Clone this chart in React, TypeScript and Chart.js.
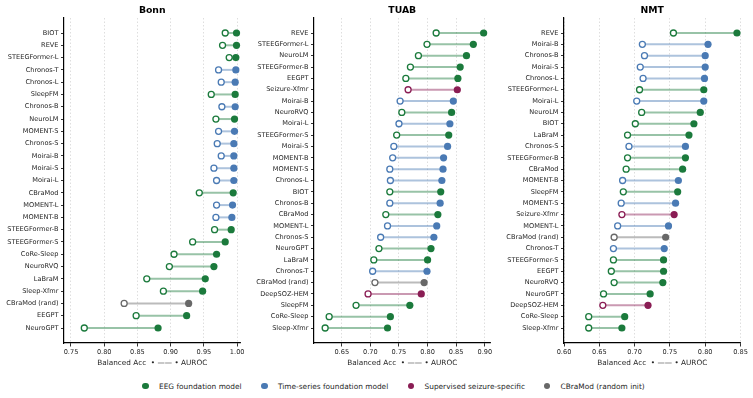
import { useEffect, useRef } from "react";
import { Chart, registerables } from "chart.js";

Chart.register(...registerables);

// ---- Model groups ----
const EEG_FOUNDATION = [
  "BIOT", "REVE", "STEEGFormer-L", "STEEGFormer-B", "STEEGFormer-S", "SleepFM", "NeuroLM",
  "CBraMod", "CoRe-Sleep", "NeuroRVQ", "LaBraM", "Sleep-Xfmr", "EEGPT", "NeuroGPT",
];
const TIME_SERIES_FOUNDATION = [
  "Chronos-T", "Chronos-S", "Chronos-B", "Chronos-L", "MOMENT-S", "MOMENT-B", "MOMENT-L",
  "Moirai-S", "Moirai-B", "Moirai-L",
];
const SUPERVISED_SEIZURE = ["Seizure-Xfmr", "DeepSOZ-HEM"];
const RANDOM_INIT = ["CBraMod (rand)"];

const GROUP_COLORS = {
  eeg: "#1b7a3c",
  ts: "#4a7ab4",
  seizure: "#8a1d54",
  rand: "#686868",
};

const LEGEND_LABELS = [
  "EEG foundation model",
  "Time-series foundation model",
  "Supervised seizure-specific",
  "CBraMod (random init)",
];

// ---- Bonn ----
const BONN_MODELS = [
  "BIOT", "REVE", "STEEGFormer-L", "Chronos-T", "Chronos-L", "SleepFM", "Chronos-B", "NeuroLM",
  "MOMENT-S", "Chronos-S", "Moirai-B", "Moirai-S", "Moirai-L", "CBraMod", "MOMENT-L", "MOMENT-B",
  "STEEGFormer-B", "STEEGFormer-S", "CoRe-Sleep", "NeuroRVQ", "LaBraM", "Sleep-Xfmr",
  "CBraMod (rand)", "EEGPT", "NeuroGPT",
];
const BONN_BAL_ACC = [
  0.982, 0.978, 0.988, 0.972, 0.976, 0.961, 0.977, 0.968, 0.972, 0.970, 0.976, 0.965, 0.969,
  0.943, 0.969, 0.968, 0.966, 0.933, 0.905, 0.898, 0.864, 0.889, 0.830, 0.848, 0.770,
];
const BONN_AUROC = [
  0.999, 0.999, 0.998, 0.998, 0.997, 0.997, 0.997, 0.996, 0.996, 0.995, 0.995, 0.995, 0.995,
  0.994, 0.993, 0.992, 0.991, 0.982, 0.969, 0.965, 0.952, 0.948, 0.927, 0.924, 0.881,
];
const BONN_TICKS = [0.75, 0.8, 0.85, 0.9, 0.95, 1.0];

// ---- TUAB ----
const TUAB_MODELS = [
  "REVE", "STEEGFormer-L", "NeuroLM", "STEEGFormer-B", "EEGPT", "Seizure-Xfmr", "Moirai-B",
  "NeuroRVQ", "Moirai-L", "STEEGFormer-S", "Moirai-S", "MOMENT-B", "MOMENT-S", "Chronos-L",
  "BIOT", "Chronos-B", "CBraMod", "MOMENT-L", "Chronos-S", "NeuroGPT", "LaBraM", "Chronos-T",
  "CBraMod (rand)", "DeepSOZ-HEM", "SleepFM", "CoRe-Sleep", "Sleep-Xfmr",
];
const TUAB_BAL_ACC = [
  0.815, 0.799, 0.784, 0.770, 0.762, 0.766, 0.752, 0.755, 0.750, 0.746, 0.741, 0.739, 0.734,
  0.735, 0.734, 0.734, 0.727, 0.730, 0.718, 0.715, 0.706, 0.704, 0.708, 0.696, 0.675, 0.628,
  0.621,
];
const TUAB_AUROC = [
  0.898, 0.880, 0.868, 0.857, 0.853, 0.852, 0.845, 0.842, 0.839, 0.837, 0.835, 0.828, 0.827,
  0.825, 0.823, 0.822, 0.818, 0.816, 0.811, 0.806, 0.800, 0.799, 0.794, 0.789, 0.769, 0.735,
  0.730,
];
const TUAB_TICKS = [0.65, 0.7, 0.75, 0.8, 0.85, 0.9];

// ---- NMT ----
const NMT_MODELS = [
  "REVE", "Moirai-B", "Chronos-B", "Moirai-S", "Chronos-L", "STEEGFormer-L", "Moirai-L",
  "NeuroLM", "BIOT", "LaBraM", "Chronos-S", "STEEGFormer-B", "CBraMod", "MOMENT-B", "SleepFM",
  "MOMENT-S", "Seizure-Xfmr", "MOMENT-L", "CBraMod (rand)", "Chronos-T", "STEEGFormer-S",
  "EEGPT", "NeuroRVQ", "NeuroGPT", "DeepSOZ-HEM", "CoRe-Sleep", "Sleep-Xfmr",
];
const NMT_BAL_ACC = [
  0.755, 0.711, 0.714, 0.708, 0.712, 0.707, 0.703, 0.710, 0.701, 0.690, 0.692, 0.690, 0.688,
  0.683, 0.684, 0.681, 0.682, 0.676, 0.671, 0.670, 0.670, 0.667, 0.671, 0.656, 0.655, 0.635,
  0.635,
];
const NMT_AUROC = [
  0.845, 0.804, 0.800, 0.800, 0.799, 0.798, 0.798, 0.793, 0.784, 0.777, 0.772, 0.772, 0.768,
  0.762, 0.761, 0.758, 0.756, 0.748, 0.744, 0.742, 0.741, 0.741, 0.740, 0.722, 0.719, 0.686,
  0.682,
];
const NMT_TICKS = [0.6, 0.65, 0.7, 0.75, 0.8, 0.85];

const FONT = "'DejaVu Sans', 'Noto Sans', sans-serif";
const TEXT_COLOR = "#262626";

function colorOf(name: string): string {
  if (RANDOM_INIT.includes(name)) return GROUP_COLORS.rand;
  if (SUPERVISED_SEIZURE.includes(name)) return GROUP_COLORS.seizure;
  if (TIME_SERIES_FOUNDATION.includes(name)) return GROUP_COLORS.ts;
  if (EEG_FOUNDATION.includes(name)) return GROUP_COLORS.eeg;
  return GROUP_COLORS.rand;
}

function withAlpha(hex: string, a: number): string {
  const r = parseInt(hex.slice(1, 3), 16);
  const g = parseInt(hex.slice(3, 5), 16);
  const b = parseInt(hex.slice(5, 7), 16);
  return `rgba(${r},${g},${b},${a})`;
}

type PanelProps = {
  title: string;
  models: string[];
  balAcc: number[];
  auroc: number[];
  xMin: number;
  xMax: number;
  xTicks: number[];
  left: number;
  width: number;
};

const CANVAS_H = 370;
const PLOT_TOP = 18;
const Y_AXIS_W = 64;
const X_AXIS_H = 27;
const ROW_SPAN = 295; // pixels between first and last row
const EDGE_GAP = 15; // pixels between plot edge and outer rows

// Draws the bold panel heading centred over the plot area
const panelTitlePlugin = {
  id: "panelTitle",
  afterDraw(chart: any, _args: any, opts: any) {
    const { ctx, chartArea } = chart;
    ctx.save();
    ctx.font = `bold 9.3px ${FONT}`;
    ctx.fillStyle = "#000";
    ctx.textAlign = "center";
    ctx.textBaseline = "middle";
    ctx.fillText(opts.text, (chartArea.left + chartArea.right) / 2, 10.5);
    ctx.restore();
  },
};

function DumbbellPanel(p: PanelProps) {
  const ref = useRef<HTMLCanvasElement>(null);

  useEffect(() => {
    if (!ref.current) return;
    const n = p.models.length;
    const pad = EDGE_GAP / (ROW_SPAN / (n - 1));
    const colors = p.models.map(colorOf);

    const connectors = p.models.map((_, i) => ({
      type: "scatter" as const,
      data: [
        { x: p.balAcc[i], y: i },
        { x: p.auroc[i], y: i },
      ],
      showLine: true,
      borderColor: withAlpha(colors[i], 0.45),
      borderWidth: 2,
      pointRadius: 0,
      order: 3,
      clip: false as any,
    }));

    const openPoints = {
      type: "scatter" as const,
      data: p.models.map((_, i) => ({ x: p.balAcc[i], y: i })),
      pointRadius: 3.0,
      pointBorderWidth: 1.3,
      pointBackgroundColor: "#ffffff",
      pointBorderColor: colors,
      order: 2,
      clip: false as any,
    };

    const filledPoints = {
      type: "scatter" as const,
      data: p.models.map((_, i) => ({ x: p.auroc[i], y: i })),
      pointRadius: 3.6,
      pointBorderWidth: 0,
      pointBackgroundColor: colors,
      pointBorderColor: colors,
      order: 1,
      clip: false as any,
    };

    const chart = new Chart(ref.current, {
      type: "scatter",
      data: { datasets: [...connectors, openPoints, filledPoints] as any },
      plugins: [panelTitlePlugin as any],
      options: {
        responsive: false,
        animation: false,
        devicePixelRatio: 1,
        layout: {
          padding: { top: PLOT_TOP, left: 0, bottom: 0, right: p.width - 240.5 },
        },
        plugins: {
          legend: { display: false },
          tooltip: { enabled: false },
          panelTitle: { text: p.title },
        } as any,
        scales: {
          x: {
            type: "linear",
            min: p.xMin,
            max: p.xMax,
            afterBuildTicks: (s: any) => {
              s.ticks = p.xTicks.map((v) => ({ value: v }));
            },
            afterFit: (s: any) => {
              s.height = X_AXIS_H;
            },
            ticks: {
              autoSkip: false,
              maxRotation: 0,
              padding: 2,
              color: TEXT_COLOR,
              font: { family: FONT, size: 6.6 },
              callback: (v: any) => Number(v).toFixed(2),
            },
            grid: {
              display: true,
              color: "#d6d6d6",
              lineWidth: 0.8,
              drawTicks: true,
              tickLength: 3.5,
              tickColor: "#000",
              tickWidth: 0.8,
              tickBorderDash: [],
            },
            border: { display: true, color: "#000", width: 1.2, dash: [1.5, 2] },
            title: {
              display: true,
              text: "Balanced Acc  \u2022 \u2014\u2014 \u2022 AUROC",
              color: TEXT_COLOR,
              font: { family: FONT, size: 7.3 },
              padding: { top: 0, bottom: 2.5 },
            },
          },
          y: {
            type: "linear",
            reverse: true,
            min: -pad,
            max: n - 1 + pad,
            afterBuildTicks: (s: any) => {
              s.ticks = p.models.map((_, i) => ({ value: i }));
            },
            afterFit: (s: any) => {
              s.width = Y_AXIS_W;
            },
            ticks: {
              autoSkip: false,
              padding: 2.5,
              color: TEXT_COLOR,
              font: { family: FONT, size: 6.6 },
              callback: (v: any) => p.models[Math.round(Number(v))] ?? "",
            },
            grid: {
              display: true,
              drawOnChartArea: false,
              drawTicks: true,
              tickLength: 3,
              tickColor: "#000",
              tickWidth: 0.8,
            },
            border: { display: true, color: "#000", width: 1.2 },
          },
        },
      } as any,
    });

    return () => chart.destroy();
  }, []);

  return (
    <canvas
      ref={ref}
      width={p.width}
      height={CANVAS_H}
      style={{ position: "absolute", left: p.left, top: 0, width: p.width, height: CANVAS_H }}
    />
  );
}

function Legend() {
  const entries = [
    { label: LEGEND_LABELS[0], color: GROUP_COLORS.eeg, cx: 145 },
    { label: LEGEND_LABELS[1], color: GROUP_COLORS.ts, cx: 264 },
    { label: LEGEND_LABELS[2], color: GROUP_COLORS.seizure, cx: 410.5 },
    { label: LEGEND_LABELS[3], color: GROUP_COLORS.rand, cx: 546.5 },
  ];
  return (
    <>
      {entries.map((e) => (
        <div
          key={e.label}
          style={{
            position: "absolute",
            left: e.cx - 3,
            top: 381,
            height: 10,
            display: "flex",
            alignItems: "center",
            fontFamily: FONT,
            fontSize: 7.4,
            color: TEXT_COLOR,
            whiteSpace: "nowrap",
          }}
        >
          <span
            style={{
              display: "inline-block",
              width: 6.5,
              height: 6.5,
              borderRadius: "50%",
              background: e.color,
              marginRight: 10.5,
            }}
          />
          {e.label}
        </div>
      ))}
    </>
  );
}

export default function App() {
  return (
    <div
      style={{
        position: "fixed",
        left: 0,
        top: 0,
        width: 753,
        height: 398,
        background: "#fff",
        overflow: "hidden",
      }}
    >
      <DumbbellPanel
        title="Bonn"
        models={BONN_MODELS}
        balAcc={BONN_BAL_ACC}
        auroc={BONN_AUROC}
        xMin={0.7395}
        xMax={1.005}
        xTicks={BONN_TICKS}
        left={0}
        width={250}
      />
      <DumbbellPanel
        title="TUAB"
        models={TUAB_MODELS}
        balAcc={TUAB_BAL_ACC}
        auroc={TUAB_AUROC}
        xMin={0.6015}
        xMax={0.91}
        xTicks={TUAB_TICKS}
        left={250}
        width={250}
      />
      <DumbbellPanel
        title="NMT"
        models={NMT_MODELS}
        balAcc={NMT_BAL_ACC}
        auroc={NMT_AUROC}
        xMin={0.6}
        xMax={0.85}
        xTicks={NMT_TICKS}
        left={500}
        width={253}
      />
      <Legend />
    </div>
  );
}
